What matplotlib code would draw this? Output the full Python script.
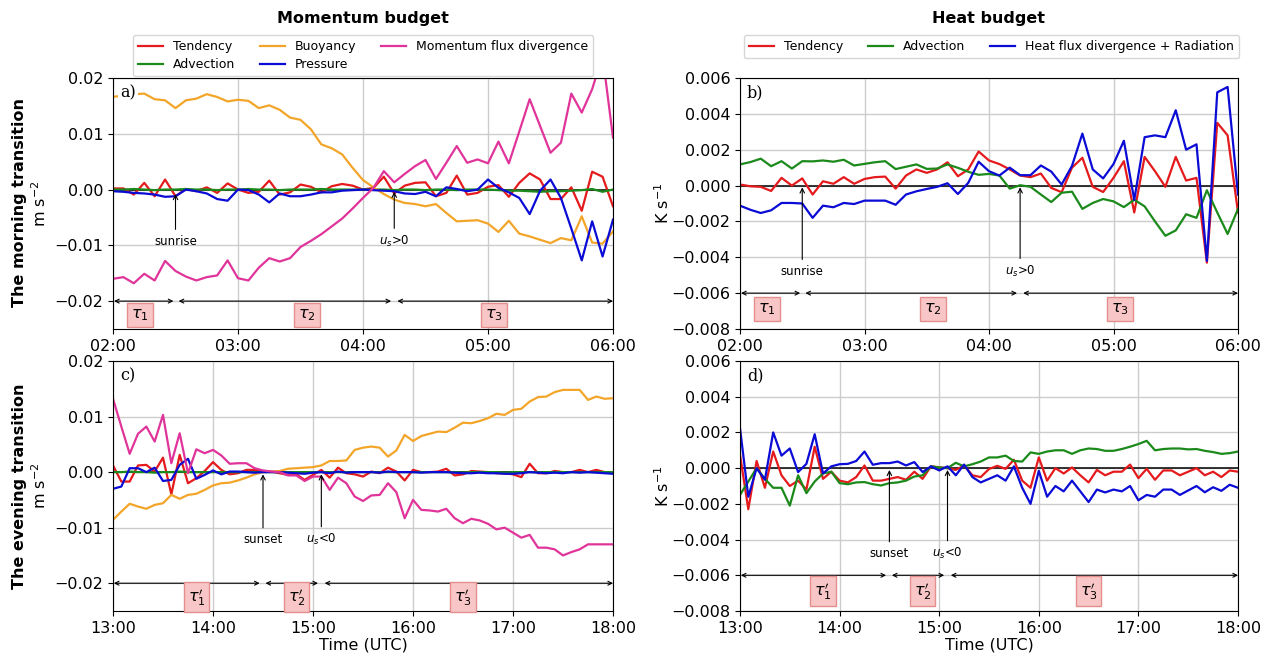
import numpy as np
import pandas as pd
import matplotlib
matplotlib.use("Agg")
import matplotlib.pyplot as plt
import matplotlib.dates as mdates

# ---------------- time axes (5-min output) ----------------
t_morning = pd.date_range("2000-01-01 02:00", "2000-01-01 06:00", freq="5min").to_numpy()
t_evening = pd.date_range("2000-01-01 13:00", "2000-01-01 18:00", freq="5min").to_numpy()

# ---------------- a) momentum budget, morning (m s-2) ----------------
mom_tend_am = [0.0002, 0.0002, -0.0009, 0.0012, -0.0012, 0.0018, -0.0012, 0.0001, -0.0003, 0.0004,
               -0.0006, 0.0011, 0.0000, -0.0006, -0.0004, 0.0016, -0.0009, -0.0005, 0.0009, 0.0005,
               -0.0005, 0.0006, 0.0010, 0.0007, 0.0000, 0.0003, 0.0023, -0.0007, 0.0007, 0.0012,
               0.0013, -0.0012, -0.0006, 0.0025, -0.0009, -0.0006, 0.0005, 0.0008, -0.0013, 0.0012,
               0.0029, 0.0018, -0.0017, -0.0017, 0.0004, -0.0038, 0.0032, 0.0023, -0.0030]
mom_adv_am = [0.0000, 0.0000, 0.0001, 0.0000, -0.0001, 0.0000, 0.0000, 0.0001, 0.0000, 0.0000,
              -0.0001, 0.0000, 0.0000, 0.0001, 0.0000, 0.0000, -0.0001, 0.0000, 0.0000, 0.0000,
              0.0001, 0.0000, 0.0000, 0.0000, 0.0000, 0.0000, 0.0000, -0.0001, 0.0000, 0.0000,
              -0.0001, 0.0000, 0.0000, -0.0001, 0.0000, 0.0000, 0.0000, -0.0001, -0.0002, -0.0002,
              -0.0003, -0.0004, -0.0003, -0.0003, -0.0002, -0.0001, 0.0001, -0.0004, 0.0000]
mom_buoy_am = [0.0166, 0.0169, 0.0171, 0.0172, 0.0162, 0.0160, 0.0146, 0.0160, 0.0163, 0.0171,
               0.0166, 0.0158, 0.0161, 0.0159, 0.0146, 0.0151, 0.0143, 0.0129, 0.0125, 0.0108,
               0.0081, 0.0074, 0.0063, 0.0039, 0.0017, 0.0004, -0.0008, -0.0018, -0.0024, -0.0026,
               -0.0030, -0.0026, -0.0042, -0.0057, -0.0056, -0.0055, -0.0061, -0.0076, -0.0056, -0.0079,
               -0.0084, -0.0090, -0.0096, -0.0087, -0.0091, -0.0048, -0.0095, -0.0097, -0.0075]
mom_pres_am = [-0.0003, -0.0004, -0.0006, -0.0007, -0.0009, -0.0013, -0.0012, 0.0000, -0.0003, -0.0007,
               -0.0017, -0.0020, 0.0000, -0.0001, -0.0009, -0.0023, -0.0007, -0.0012, -0.0012, -0.0009,
               -0.0005, -0.0005, -0.0002, -0.0001, 0.0000, -0.0001, -0.0002, -0.0003, -0.0007, -0.0008,
               -0.0004, -0.0012, 0.0004, 0.0001, -0.0003, 0.0000, 0.0018, 0.0003, -0.0005, -0.0015,
               -0.0044, -0.0002, 0.0018, -0.0015, -0.0070, -0.0127, -0.0057, -0.0120, -0.0054]
mom_mfd_am = [-0.0160, -0.0157, -0.0168, -0.0151, -0.0163, -0.0128, -0.0146, -0.0156, -0.0163, -0.0157,
              -0.0154, -0.0127, -0.0159, -0.0163, -0.0140, -0.0123, -0.0129, -0.0123, -0.0103, -0.0092,
              -0.0080, -0.0066, -0.0052, -0.0034, -0.0015, 0.0003, 0.0033, 0.0013, 0.0028, 0.0042,
              0.0053, 0.0019, 0.0048, 0.0078, 0.0048, 0.0054, 0.0047, 0.0086, 0.0047, 0.0104,
              0.0162, 0.0114, 0.0066, 0.0084, 0.0172, 0.0138, 0.0180, 0.0240, 0.0093]

# ---------------- b) heat budget, morning (K s-1) ----------------
heat_tend_am = [0.00006, -0.00004, -0.00007, -0.0003, 0.00043, 0.0000, 0.0004, -0.0005, 0.00024, 0.0001,
                0.00047, 0.0001, 0.00037, 0.00047, 0.0005, -0.00017, 0.00056, 0.0009, 0.00071, 0.0009,
                0.0013, 0.00052, 0.0009, 0.0019, 0.0014, 0.0012, 0.0009, 0.00056, 0.00047, 0.00067,
                -0.00013, -0.00037, 0.0010, 0.00155, -0.00007, -0.00036, 0.00043, 0.00136, -0.0015, 0.0016,
                0.0008, -0.00007, 0.0016, 0.00028, 0.00043, -0.0043, 0.0035, 0.0028, -0.0015]
heat_adv_am = [0.00118, 0.00131, 0.0015, 0.00108, 0.00136, 0.00095, 0.00136, 0.00135, 0.0014, 0.00133,
               0.00144, 0.00112, 0.00121, 0.0013, 0.00136, 0.00092, 0.00105, 0.00118, 0.00093, 0.00095,
               0.00118, 0.00099, 0.00077, 0.0006, 0.00065, 0.00056, -0.00017, 0.00002, -0.00007, -0.0005,
               -0.00092, -0.0004, -0.00034, -0.0013, -0.00097, -0.00075, -0.00088, -0.0012, -0.00079, -0.00116,
               -0.0020, -0.0028, -0.0025, -0.0016, -0.0018, -0.00026, -0.0015, -0.0027, -0.0013]
heat_hfd_am = [-0.00112, -0.00135, -0.00153, -0.00138, -0.00097, -0.00097, -0.0010, -0.0018, -0.00112, -0.00121,
               -0.00097, -0.00103, -0.00084, -0.00084, -0.00084, -0.00107, -0.0005, -0.00032, -0.00019, -0.00007,
               0.00013, -0.00047, 0.00015, 0.00133, 0.0008, 0.00056, 0.0010, 0.00058, 0.00058, 0.00112,
               0.00078, 0.00006, 0.0011, 0.0029, 0.0009, 0.0004, 0.0012, 0.0025, -0.0008, 0.0027,
               0.0028, 0.0027, 0.0042, 0.0020, 0.0023, -0.0042, 0.0052, 0.0055, -0.0005]

# ---------------- c) momentum budget, evening (m s-2) ----------------
mom_tend_pm = [0.0012, -0.0017, -0.0017, 0.0012, 0.0013, 0.0001, 0.0026, -0.0040, 0.0031, -0.0020,
               -0.0011, 0.0002, 0.0018, 0.0004, -0.0004, -0.0002, 0.0004, 0.0004, 0.0001, 0.0001,
               -0.0002, -0.0005, -0.0004, -0.0014, -0.0005, 0.0004, -0.0010, 0.0008, -0.0002, -0.0004,
               -0.0008, 0.0001, -0.0002, 0.0008, 0.0001, -0.0015, 0.0004, 0.0000, 0.0000, 0.0001,
               0.0006, -0.0006, -0.0004, 0.0002, 0.0001, 0.0000, -0.0002, -0.0002, -0.0004, -0.0009,
               0.0015, -0.0002, -0.0002, 0.0002, 0.0000, 0.0000, 0.0004, 0.0000, 0.0004, 0.0000, 0.0000]
mom_adv_pm = [0.0000, 0.0000, 0.0001, 0.0000, 0.0000, -0.0001, 0.0000, 0.0000, 0.0001, 0.0000,
              0.0000, 0.0000, 0.0000, 0.0000, 0.0000, 0.0000, 0.0000, 0.0000, 0.0000, 0.0000,
              0.0000, 0.0000, 0.0000, 0.0000, 0.0000, 0.0000, 0.0000, 0.0000, 0.0000, 0.0000,
              0.0000, 0.0000, 0.0000, 0.0000, 0.0000, 0.0000, 0.0000, 0.0000, 0.0000, 0.0000,
              0.0000, 0.0000, -0.0001, 0.0000, 0.0000, 0.0000, 0.0000, -0.0001, 0.0000, 0.0000,
              0.0000, 0.0000, 0.0000, 0.0000, 0.0000, 0.0000, 0.0000, 0.0000, 0.0000, 0.0000, 0.0000]
mom_buoy_pm = [-0.0086, -0.0071, -0.0057, -0.0062, -0.0066, -0.0059, -0.0056, -0.0041, -0.0048, -0.0041,
               -0.0039, -0.0032, -0.0024, -0.0020, -0.0019, -0.0015, -0.0010, -0.0004, 0.0000, 0.0001,
               0.0002, 0.0006, 0.0007, 0.0008, 0.0009, 0.0012, 0.0020, 0.0020, 0.0021, 0.0040,
               0.0044, 0.0046, 0.0044, 0.0028, 0.0039, 0.0067, 0.0056, 0.0065, 0.0069, 0.0073,
               0.0072, 0.0080, 0.0089, 0.0088, 0.0092, 0.0097, 0.0105, 0.0103, 0.0112, 0.0114,
               0.0127, 0.0135, 0.0136, 0.0144, 0.0148, 0.0148, 0.0148, 0.0130, 0.0136, 0.0132, 0.0133]
mom_pres_pm = [-0.0030, -0.0026, 0.0007, 0.0007, 0.0000, 0.0008, -0.0016, -0.0014, 0.0013, 0.0024,
               -0.0012, -0.0005, 0.0003, -0.0004, 0.0001, 0.0001, 0.0000, -0.0001, 0.0000, 0.0000,
               0.0000, -0.0001, -0.0002, -0.0003, -0.0001, 0.0000, -0.0002, 0.0001, -0.0001, 0.0000,
               0.0000, 0.0000, -0.0001, 0.0001, 0.0000, 0.0000, 0.0000, -0.0001, 0.0000, 0.0000,
               0.0000, -0.0001, -0.0002, -0.0002, -0.0001, -0.0002, -0.0002, -0.0003, -0.0003, -0.0002,
               0.0000, -0.0001, -0.0002, -0.0001, -0.0002, 0.0000, -0.0001, 0.0000, -0.0001, -0.0002, -0.0003]
mom_mfd_pm = [0.0132, 0.0082, 0.0033, 0.0069, 0.0082, 0.0055, 0.0103, 0.0016, 0.0070, -0.0002,
              0.0041, 0.0034, 0.0040, 0.0030, 0.0015, 0.0016, 0.0016, 0.0007, 0.0003, 0.0001,
              0.0000, -0.0006, -0.0006, -0.0016, -0.0008, -0.0008, -0.0032, -0.0010, -0.0020, -0.0044,
              -0.0052, -0.0042, -0.0041, -0.0020, -0.0036, -0.0083, -0.0050, -0.0068, -0.0069, -0.0071,
              -0.0066, -0.0083, -0.0092, -0.0084, -0.0087, -0.0093, -0.0103, -0.0100, -0.0109, -0.0118,
              -0.0113, -0.0136, -0.0136, -0.0139, -0.0150, -0.0144, -0.0139, -0.0130, -0.0130, -0.0130, -0.0130]

# ---------------- d) heat budget, evening (K s-1) ----------------
heat_tend_pm = [0.00075, -0.0023, 0.0004, -0.0011, 0.00093, -0.0004, -0.0010, -0.0007, -0.0012, 0.0012,
                -0.0006, -0.0002, -0.0007, -0.0008, -0.0005, 0.00015, -0.0007, -0.0007, -0.0006, -0.0005,
                -0.00065, -0.0002, -0.0006, 0.0001, 0.00005, 0.0000, -0.0001, 0.00015, -0.0004, -0.0005,
                -0.00005, 0.00013, -0.00004, 0.00047, -0.0007, -0.0011, 0.0006, -0.0007, 0.0000, -0.0003,
                0.00004, -0.0004, -0.0008, -0.0001, -0.0004, -0.0002, -0.0002, 0.0002, -0.00056, -0.00004,
                -0.00065, -0.00013, -0.00013, -0.0004, -0.0002, 0.0000, -0.0004, -0.0002, -0.0005, -0.00013, -0.0002]
heat_adv_pm = [-0.0015, -0.00075, 0.0000, -0.0006, -0.0011, -0.0011, -0.0021, -0.0004, -0.0014, -0.00075,
               -0.0003, -0.0002, -0.00084, -0.0009, -0.0008, -0.00078, -0.0009, -0.00097, -0.00084, -0.0008,
               -0.0007, -0.00047, -0.0004, 0.0001, 0.00004, 0.0000, 0.0003, 0.0001, 0.00022, 0.00037,
               0.0006, 0.0006, 0.0007, 0.0004, 0.00037, 0.00088, 0.0008, 0.00093, 0.0010, 0.0010,
               0.0008, 0.0010, 0.0011, 0.00107, 0.00097, 0.00097, 0.00107, 0.0012, 0.00135, 0.00153,
               0.0010, 0.00107, 0.0011, 0.0011, 0.00105, 0.00107, 0.00097, 0.0009, 0.0008, 0.00084, 0.00093]
heat_hfd_pm = [0.00224, -0.0016, 0.0000, -0.00065, 0.0020, 0.0007, 0.0011, -0.00022, 0.00024, 0.0019,
               -0.0003, 0.0001, 0.00022, 0.00024, 0.0004, 0.00093, 0.00019, 0.00028, 0.00028, 0.00037,
               0.00015, 0.00034, -0.00022, 0.0001, -0.00013, 0.0001, -0.0004, 0.0002, -0.0005, -0.0008,
               -0.0006, -0.0004, -0.0007, 0.0001, -0.0011, -0.0020, -0.00015, -0.0016, -0.0010, -0.0013,
               -0.0007, -0.0013, -0.0019, -0.0012, -0.00136, -0.0012, -0.0013, -0.0010, -0.0018, -0.0015,
               -0.0016, -0.0012, -0.0012, -0.0015, -0.00125, -0.0010, -0.00135, -0.00107, -0.00127, -0.00093, -0.0011]

# ---------------- event markers and sub-periods ----------------
sunrise = "2000-01-01T02:30"
us_pos = "2000-01-01T04:15"
sunset = "2000-01-01T14:30"
us_neg = "2000-01-01T15:05"

periods_am = [("02:00:30", "02:29"), ("02:31:30", "04:13:30"), ("04:16:30", "06:00")]
periods_pm = [("13:00:30", "14:28"), ("14:31:30", "15:03"), ("15:07", "18:00")]
labels_am = [r"$\tau_1$", r"$\tau_2$", r"$\tau_3$"]
labels_pm = [r"$\tau^{\prime}_1$", r"$\tau^{\prime}_2$", r"$\tau^{\prime}_3$"]
label_pos_am = ["02:13", "03:33", "05:03"]
label_pos_pm = ["13:50", "14:50", "16:30"]

C_TEND = "#e41a1c"
C_ADV = "#1b8a1b"
C_BUOY = "#f3a52a"
C_PRES = "#0b0bd6"
C_MFD = "#e0349a"
LW = 1.6


def ts(hhmm):
    return np.datetime64("2000-01-01T" + (hhmm if hhmm.count(":") == 2 else hhmm + ":00"))


fig = plt.figure(figsize=(12.69, 6.54), dpi=100)
ax_a = fig.add_axes([113 / 1269, 1 - 329 / 654, 500 / 1269, 251 / 654])
ax_b = fig.add_axes([740 / 1269, 1 - 329 / 654, 498 / 1269, 251 / 654])
ax_c = fig.add_axes([113 / 1269, 1 - 611 / 654, 500 / 1269, 250 / 654])
ax_d = fig.add_axes([740 / 1269, 1 - 611 / 654, 498 / 1269, 250 / 654])


def style_axis(ax, t, ylim, yticks, panel):
    ax.set_xlim(t[0], t[-1])
    ax.set_ylim(*ylim)
    ax.set_yticks(yticks)
    ax.xaxis.set_major_locator(mdates.HourLocator())
    ax.xaxis.set_major_formatter(mdates.DateFormatter("%H:%M"))
    ax.grid(True, color="#cccccc", lw=1.0, zorder=0)
    ax.set_axisbelow(True)
    ax.tick_params(labelsize=11.5)
    ax.axhline(0, color="black", lw=1.1, zorder=1.5)
    ax.text(0.014, 0.975, panel, transform=ax.transAxes, ha="left", va="top",
            family="DejaVu Serif", fontsize=11.5, zorder=10,
            bbox=dict(fc="white", ec="none", pad=1.5))


def mark_event(ax, when, label, y_tip, y_text):
    ax.annotate(label, xy=(np.datetime64(when), y_tip), xytext=(np.datetime64(when), y_text),
                ha="center", va="center", fontsize=8.5, zorder=6,
                arrowprops=dict(arrowstyle="->", lw=0.8, color="black",
                                shrinkA=2, shrinkB=0, mutation_scale=8))


def mark_periods(ax, periods, labels, label_pos, y_arrow, y_label):
    for (p0, p1), lab, lp in zip(periods, labels, label_pos):
        ax.annotate("", xy=(ts(p1), y_arrow), xytext=(ts(p0), y_arrow),
                    arrowprops=dict(arrowstyle="<->", lw=0.8, color="black",
                                    shrinkA=0, shrinkB=0, mutation_scale=7), zorder=6)
        ax.text(ts(lp), y_label, lab, ha="center", va="center", fontsize=11.5, zorder=6,
                bbox=dict(boxstyle="square,pad=0.25", fc="#f8c6c6", ec="#e58e8e", lw=1))


# ---- a)
ax_a.plot(t_morning, mom_tend_am, color=C_TEND, lw=LW, label="Tendency")
ax_a.plot(t_morning, mom_adv_am, color=C_ADV, lw=LW, label="Advection")
ax_a.plot(t_morning, mom_buoy_am, color=C_BUOY, lw=LW, label="Buoyancy")
ax_a.plot(t_morning, mom_pres_am, color=C_PRES, lw=LW, label="Pressure")
ax_a.plot(t_morning, mom_mfd_am, color=C_MFD, lw=LW, label="Momentum flux divergence")
style_axis(ax_a, t_morning, (-0.025, 0.02), [-0.02, -0.01, 0.0, 0.01, 0.02], "a)")
mark_event(ax_a, sunrise, "sunrise", -0.0008, -0.0093)
mark_event(ax_a, us_pos, r"$u_s$>0", -0.0004, -0.0093)
mark_periods(ax_a, periods_am, labels_am, label_pos_am, -0.02, -0.0225)
ax_a.legend(loc="upper center", bbox_to_anchor=(0.5, 1 + 43 / 251), ncol=3, fontsize=9,
            borderpad=0.4, labelspacing=0.4, borderaxespad=0)
ax_a.set_ylabel(r"m s$^{-2}$", fontsize=11.5)
ax_a.yaxis.set_label_coords(-0.128, 0.5)

# ---- b)
ax_b.plot(t_morning, heat_tend_am, color=C_TEND, lw=LW, label="Tendency")
ax_b.plot(t_morning, heat_adv_am, color=C_ADV, lw=LW, label="Advection")
ax_b.plot(t_morning, heat_hfd_am, color=C_PRES, lw=LW, label="Heat flux divergence + Radiation")
style_axis(ax_b, t_morning, (-0.008, 0.006), [-0.008, -0.006, -0.004, -0.002, 0.0, 0.002, 0.004, 0.006], "b)")
mark_event(ax_b, sunrise, "sunrise", -0.0001, -0.0048)
mark_event(ax_b, us_pos, r"$u_s$>0", -0.0001, -0.0048)
mark_periods(ax_b, periods_am, labels_am, label_pos_am, -0.006, -0.0069)
ax_b.legend(loc="upper center", bbox_to_anchor=(0.505, 1 + 43 / 251), ncol=3, fontsize=9,
            borderpad=0.4, borderaxespad=0)
ax_b.set_ylabel(r"K s$^{-1}$", fontsize=11.5)
ax_b.yaxis.set_label_coords(-0.137, 0.5)

# ---- c)
ax_c.plot(t_evening, mom_tend_pm, color=C_TEND, lw=LW)
ax_c.plot(t_evening, mom_adv_pm, color=C_ADV, lw=LW)
ax_c.plot(t_evening, mom_buoy_pm, color=C_BUOY, lw=LW)
ax_c.plot(t_evening, mom_pres_pm, color=C_PRES, lw=LW)
ax_c.plot(t_evening, mom_mfd_pm, color=C_MFD, lw=LW)
style_axis(ax_c, t_evening, (-0.025, 0.02), [-0.02, -0.01, 0.0, 0.01, 0.02], "c)")
mark_event(ax_c, sunset, "sunset", -0.0004, -0.0122)
mark_event(ax_c, us_neg, r"$u_s$<0", -0.0004, -0.0122)
mark_periods(ax_c, periods_pm, labels_pm, label_pos_pm, -0.02, -0.0225)
ax_c.set_ylabel(r"m s$^{-2}$", fontsize=11.5)
ax_c.yaxis.set_label_coords(-0.128, 0.5)
ax_c.set_xlabel("Time (UTC)", fontsize=11.5, labelpad=1)

# ---- d)
ax_d.plot(t_evening, heat_tend_pm, color=C_TEND, lw=LW)
ax_d.plot(t_evening, heat_adv_pm, color=C_ADV, lw=LW)
ax_d.plot(t_evening, heat_hfd_pm, color=C_PRES, lw=LW)
style_axis(ax_d, t_evening, (-0.008, 0.006), [-0.008, -0.006, -0.004, -0.002, 0.0, 0.002, 0.004, 0.006], "d)")
mark_event(ax_d, sunset, "sunset", -0.0001, -0.0048)
mark_event(ax_d, us_neg, r"$u_s$<0", -0.0001, -0.0048)
mark_periods(ax_d, periods_pm, labels_pm, label_pos_pm, -0.006, -0.0069)
ax_d.set_ylabel(r"K s$^{-1}$", fontsize=11.5)
ax_d.yaxis.set_label_coords(-0.137, 0.5)
ax_d.set_xlabel("Time (UTC)", fontsize=11.5, labelpad=1)

# ---- column and row headings
fig.text(363 / 1269, 1 - 18 / 654, "Momentum budget", ha="center", va="center",
         fontsize=11.5, fontweight="bold")
fig.text(989 / 1269, 1 - 18 / 654, "Heat budget", ha="center", va="center",
         fontsize=11.5, fontweight="bold")
fig.text(20 / 1269, 1 - 203 / 654, "The morning transition", rotation=90, ha="center",
         va="center", fontsize=11.5, fontweight="bold")
fig.text(20 / 1269, 1 - 486 / 654, "The evening transition", rotation=90, ha="center",
         va="center", fontsize=11.5, fontweight="bold")

fig.savefig("out.png", dpi=100)
